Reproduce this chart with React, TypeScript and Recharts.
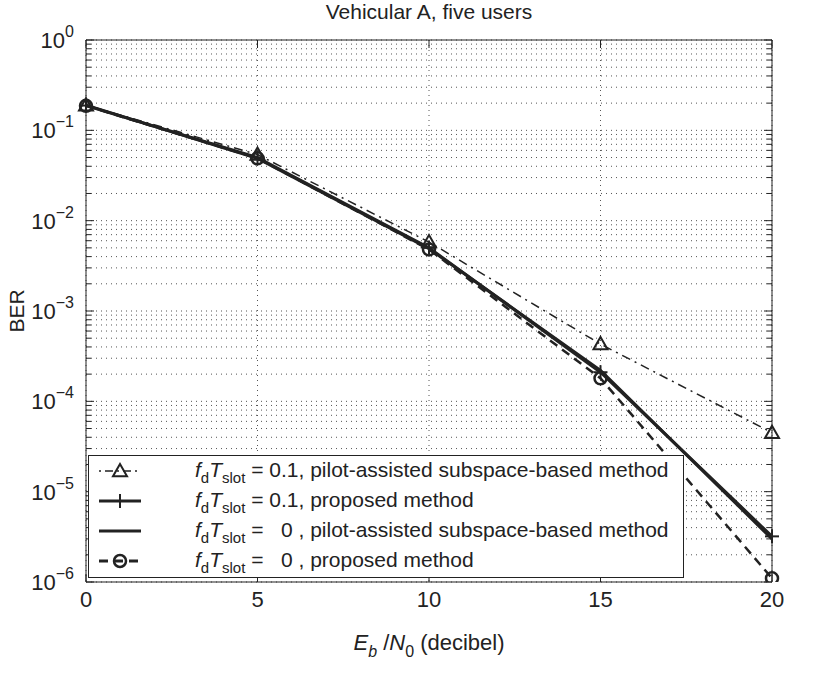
import React from "react";
import {
  LineChart,
  Line,
  XAxis,
  YAxis,
  CartesianGrid,
  ReferenceLine,
} from "recharts";

// --- Data ---
const snrDb = [0, 5, 10, 15, 20];
const pilotFast = [0.19, 0.054, 0.0058, 0.00043, 0.000045];
const proposedFast = [0.188, 0.05, 0.005, 0.00021, 0.0000032];
const pilotStatic = [0.19, 0.049, 0.0049, 0.00022, 0.000003];
const proposedStatic = [0.187, 0.049, 0.0048, 0.00018, 0.0000011];

const xTicks = [0, 5, 10, 15, 20];
const decades = [-6, -5, -4, -3, -2, -1, 0];
const minorSteps = [2, 3, 4, 5, 6, 7, 8, 9];

const yTicks: number[] = [];
decades.forEach((e) => {
  yTicks.push(Math.pow(10, e));
  if (e < 0) minorSteps.forEach((m) => yTicks.push(m * Math.pow(10, e)));
});

const data = snrDb.map((x, i) => ({
  x,
  pilotFast: pilotFast[i],
  proposedFast: proposedFast[i],
  pilotStatic: pilotStatic[i],
  proposedStatic: proposedStatic[i],
}));

// --- Layout ---
const W = 815;
const H = 676;
const M = { top: 40, right: 43, left: 8, bottom: 0 };
const Y_AXIS_W = 78;
const X_AXIS_H = 94;
const PLOT_W = W - M.left - M.right - Y_AXIS_W;
const PLOT_H = H - M.top - M.bottom - X_AXIS_H;
const CENTER_X = M.left + Y_AXIS_W + PLOT_W / 2;
const FONT = "'Liberation Sans', Arial, Helvetica, sans-serif";
const INK = "#222";

// --- Markers ---
function Triangle({ cx, cy }: any) {
  if (cx == null || cy == null) return null;
  const s = 7;
  return (
    <polygon
      points={`${cx},${cy - s} ${cx - s},${cy + s * 0.75} ${cx + s},${cy + s * 0.75}`}
      fill="none"
      stroke={INK}
      strokeWidth={2}
    />
  );
}

function Plus({ cx, cy }: any) {
  if (cx == null || cy == null) return null;
  const s = 7;
  return (
    <g stroke={INK} strokeWidth={2}>
      <line x1={cx - s} y1={cy} x2={cx + s} y2={cy} />
      <line x1={cx} y1={cy - s} x2={cx} y2={cy + s} />
    </g>
  );
}

function Circle({ cx, cy }: any) {
  if (cx == null || cy == null) return null;
  return <circle cx={cx} cy={cy} r={6} fill="none" stroke={INK} strokeWidth={2.5} />;
}

// --- Ticks (MATLAB style: inward on all four sides) ---
function XTick({ x, y, payload }: any) {
  return (
    <g>
      <line x1={x} y1={y} x2={x} y2={y - 8} stroke={INK} />
      <line x1={x} y1={y - PLOT_H} x2={x} y2={y - PLOT_H + 8} stroke={INK} />
      <text x={x} y={y + 25} textAnchor="middle" fontSize={22} fontFamily={FONT} fill={INK}>
        {payload.value}
      </text>
    </g>
  );
}

function YTick({ x, y, payload }: any) {
  const v = payload.value;
  const e = Math.round(Math.log10(v));
  const major = Math.abs(v / Math.pow(10, e) - 1) < 1e-6;
  const len = major ? 8 : 5;
  return (
    <g>
      <line x1={x} y1={y} x2={x + len} y2={y} stroke={INK} />
      <line x1={x + PLOT_W} y1={y} x2={x + PLOT_W - len} y2={y} stroke={INK} />
      {major && (
        <text x={x - 12} y={y + 8} textAnchor="end" fontSize={22} fontFamily={FONT} fill={INK}>
          10
          <tspan dy={-11} fontSize={16}>
            {e === 0 ? "0" : "\u2212" + Math.abs(e)}
          </tspan>
        </text>
      )}
    </g>
  );
}

const legendItems = [
  { value: "0.1", text: ", pilot-assisted subspace-based method", kind: "triangle" },
  { value: "0.1", text: ", proposed method", kind: "plus" },
  { value: "  0 ", text: ", pilot-assisted subspace-based method", kind: "solid" },
  { value: "  0 ", text: ", proposed method", kind: "circle" },
];

function LegendSample({ kind }: { kind: string }) {
  const y = 14;
  if (kind === "triangle")
    return (
      <g>
        <line x1={10} y1={y} x2={52} y2={y} stroke={INK} strokeWidth={1.5} strokeDasharray="2 4 8 4" />
        <Triangle cx={31} cy={y} />
      </g>
    );
  if (kind === "plus")
    return (
      <g>
        <line x1={10} y1={y} x2={52} y2={y} stroke={INK} strokeWidth={3} />
        <Plus cx={31} cy={y} />
      </g>
    );
  if (kind === "solid") return <line x1={10} y1={y} x2={52} y2={y} stroke={INK} strokeWidth={3} />;
  return (
    <g>
      <line x1={10} y1={y} x2={52} y2={y} stroke={INK} strokeWidth={3} strokeDasharray="9 6" />
      <Circle cx={31} cy={y} />
    </g>
  );
}

export default function App() {
  return (
    <div style={{ position: "absolute", left: 0, top: 0, width: W, height: H, background: "#fff" }}>
      <LineChart width={W} height={H} data={data} margin={M}>
        <CartesianGrid stroke="#555" strokeDasharray="1 4" strokeWidth={1} />
        <XAxis
          dataKey="x"
          type="number"
          domain={[0, 20]}
          ticks={xTicks}
          height={X_AXIS_H}
          tickLine={false}
          tickSize={0}
          tickMargin={0}
          axisLine={{ stroke: INK }}
          tick={<XTick />}
          interval={0}
        />
        <YAxis
          scale="log"
          type="number"
          domain={[1e-6, 1]}
          allowDataOverflow
          ticks={yTicks}
          width={Y_AXIS_W}
          tickLine={false}
          tickSize={0}
          tickMargin={0}
          axisLine={{ stroke: INK }}
          tick={<YTick />}
          interval={0}
        />
        <ReferenceLine y={1} stroke={INK} />
        <ReferenceLine x={20} stroke={INK} />
        <Line
          dataKey="pilotFast"
          stroke={INK}
          strokeWidth={1.5}
          strokeDasharray="2 5 9 5"
          dot={<Triangle />}
          isAnimationActive={false}
        />
        <Line
          dataKey="pilotStatic"
          stroke={INK}
          strokeWidth={3}
          dot={false}
          isAnimationActive={false}
        />
        <Line
          dataKey="proposedFast"
          stroke={INK}
          strokeWidth={3}
          dot={<Plus />}
          isAnimationActive={false}
        />
        <Line
          dataKey="proposedStatic"
          stroke={INK}
          strokeWidth={2.5}
          strokeDasharray="9 6"
          dot={<Circle />}
          isAnimationActive={false}
        />
      </LineChart>

      {/* title and axis labels */}
      <svg width={W} height={H} style={{ position: "absolute", left: 0, top: 0, pointerEvents: "none" }}>
        <text x={CENTER_X} y={19} textAnchor="middle" fontSize={21} fontFamily={FONT} fill={INK}>
          Vehicular A, five users
        </text>
        <text x={CENTER_X} y={650} textAnchor="middle" fontSize={22} fontFamily={FONT} fill={INK}>
          <tspan fontStyle="italic">E</tspan>
          <tspan dy={7} fontSize={16} fontStyle="italic">b</tspan>
          <tspan dy={-7}> /</tspan>
          <tspan fontStyle="italic">N</tspan>
          <tspan dy={7} fontSize={16}>0</tspan>
          <tspan dy={-7}> (decibel)</tspan>
        </text>
        <text
          x={24}
          y={311}
          textAnchor="middle"
          fontSize={21}
          fontFamily={FONT}
          fill={INK}
          transform="rotate(-90 24 311)"
        >
          BER
        </text>
      </svg>

      {/* legend */}
      <div
        style={{
          position: "absolute",
          left: 88,
          top: 455,
          width: 596,
          height: 123,
          border: `1px solid ${INK}`,
          background: "#fff",
          boxSizing: "border-box",
        }}
      >
        <svg width={596} height={121}>
          {legendItems.map((it, i) => (
            <g key={i} transform={`translate(0, ${1 + i * 30})`}>
              <LegendSample kind={it.kind} />
              <text y={20} x={106} fontSize={21} fontFamily={FONT} fill={INK} style={{ whiteSpace: "pre" }}>
                <tspan fontStyle="italic">f</tspan>
                <tspan dy={6} fontSize={15}>d</tspan>
                <tspan dy={-6} fontStyle="italic">T</tspan>
                <tspan dy={6} fontSize={15}>slot</tspan>
                <tspan dy={-6}>{" = " + it.value}</tspan>
                <tspan>{it.text}</tspan>
              </text>
            </g>
          ))}
        </svg>
      </div>
    </div>
  );
}
